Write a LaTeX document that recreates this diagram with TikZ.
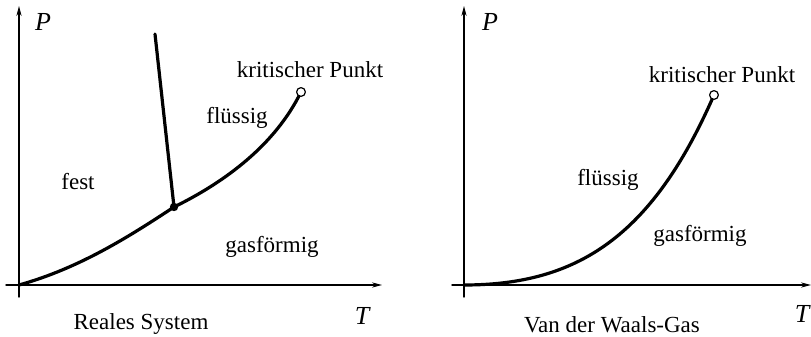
\documentclass[tikz,border=0pt]{standalone}
\usepackage{fontspec}
\setmainfont{Liberation Serif}
\usetikzlibrary{arrows.meta}

\begin{document}
\begin{tikzpicture}[x=0.5pt,y=-0.5pt, line cap=round, line join=round,
    axis/.style={line width=0.7pt,-{Stealth[length=5pt,width=2.6pt]}},
    curve/.style={line width=1.6pt},
    lbl/.style={font=\fontsize{11.5}{14}\selectfont, inner sep=0pt},
    var/.style={font=\fontsize{13}{15}\selectfont\itshape, inner sep=0pt},
    crit/.style={circle, draw, fill=white, line width=0.6pt, inner sep=0pt, minimum size=4.4pt},
    triple/.style={circle, fill, inner sep=0pt, minimum size=4.2pt}]
    \useasboundingbox (0,0) rectangle (811,337);

    % Reales System
    \coordinate (O1) at (19,285);
    \coordinate (tp) at (174,207);
    \coordinate (melt) at (155,34);
    \draw[axis] (19,297) -- (19,6) coordinate (P1);
    \draw[axis] (6,285) -- (382,285) coordinate (T1);
    \draw[curve] (O1) .. controls (80,268) and (130,236) .. (tp)
        .. controls (225,182) and (275,145) .. (301,92) coordinate (kp1);
    \draw[curve] (tp) -- (melt);
    \node[triple] (tpdot) at (tp) {};
    \node[crit] (kp1dot) at (kp1) {};

    \node[var] (p1) at (43,22) {P};
    \node[var] (t1) at (362,316) {T};
    \node[lbl] (fest) at (78,182) {fest};
    \node[lbl, anchor=west] (fl1) at (206,118) {flüssig};
    \node[lbl, anchor=west] (gas1) at (225,247) {gasförmig};
    \node[lbl] (kp1lbl) at (310,70) {kritischer Punkt};
    \node[lbl] (sys1) at (141,324) {Reales System};

    % Van der Waals-Gas
    \coordinate (O2) at (464,285);
    \draw[axis] (464,297) -- (464,6) coordinate (P2);
    \draw[axis] (452,285) -- (811,285) coordinate (T2);
    \draw[curve] (O2) .. controls (577,285) and (652,237) .. (714,95) coordinate (kp2);
    \node[crit] (kp2dot) at (kp2) {};

    \node[var] (p2) at (490,22) {P};
    \node[var] (t2) at (802,314) {T};
    \node[lbl] (fl2) at (608,180) {flüssig};
    \node[lbl] (gas2) at (700,236) {gasförmig};
    \node[lbl] (kp2lbl) at (722,75) {kritischer Punkt};
    \node[lbl] (sys2) at (612,325) {Van der Waals-Gas};
\end{tikzpicture}
\end{document}
